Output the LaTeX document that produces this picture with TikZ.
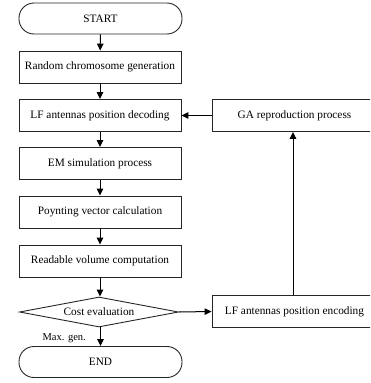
\documentclass[tikz,border=0pt]{standalone}
\usepackage{fontspec}
\setmainfont{Liberation Serif}
\usetikzlibrary{shapes.geometric,arrows.meta}
\begin{document}
\begin{tikzpicture}[x=1pt,y=-1pt,
  every node/.style={font=\fontsize{11.3}{13}\selectfont, text=black},
  procbox/.style={draw=black!85, line width=0.9pt, rectangle, inner sep=0pt, minimum width=162pt, minimum height=32pt},
  sidebox/.style={draw=black!85, line width=0.9pt, rectangle, inner sep=0pt, minimum width=165pt, minimum height=32pt},
  termbox/.style={draw=black!85, line width=0.9pt, rectangle, rounded corners=15pt, inner sep=0pt, minimum width=163pt, minimum height=31pt},
  decbox/.style={draw=black!85, line width=0.9pt, diamond, aspect=5.3, inner sep=0pt, minimum width=159pt, minimum height=30pt},
  arr/.style={draw=black, line width=1pt, -{Triangle[length=7pt,width=6.5pt]}},
  lbl/.style={font=\fontsize{10.5}{12}\selectfont, inner sep=0pt, anchor=east}]
\useasboundingbox (0,0) rectangle (370,383);
\clip (0,0) rectangle (370,383);
\node[termbox] (start) at (100.5,18.5) {START};
\node[procbox] (rand) at (100,67) {Random chromosome generation};
\node[procbox] (dec) at (100,115.5) {LF antennas position decoding};
\node[procbox] (em) at (100,163.5) {EM simulation process};
\node[procbox] (poy) at (100,212) {Poynting vector calculation};
\node[procbox] (read) at (100,261) {Readable volume computation};
\node[decbox] (cost) at (99,312) {Cost evaluation};
\node[termbox] (end) at (100.5,362) {END};
\node[sidebox] (ga) at (294.5,115.5) {GA reproduction process};
\node[sidebox] (enc) at (294.5,311.5) {LF antennas position encoding};
\coordinate (xline) at (293,0);
\node[lbl] (max) at (86,338) {Max. gen.};
\draw[arr] (start) -- (rand);
\draw[arr] (rand) -- (dec);
\draw[arr] (dec) -- (em);
\draw[arr] (em) -- (poy);
\draw[arr] (poy) -- (read);
\draw[arr] (read) -- (read.south |- cost.north);
\draw[arr] (cost.south -| end.north) -- (end);
\draw[arr] (cost.east) -- (enc.west);
\draw[arr] (enc.north -| xline) -- (ga.south -| xline);
\draw[arr] (ga.west) -- (dec.east);
\end{tikzpicture}
\end{document}
